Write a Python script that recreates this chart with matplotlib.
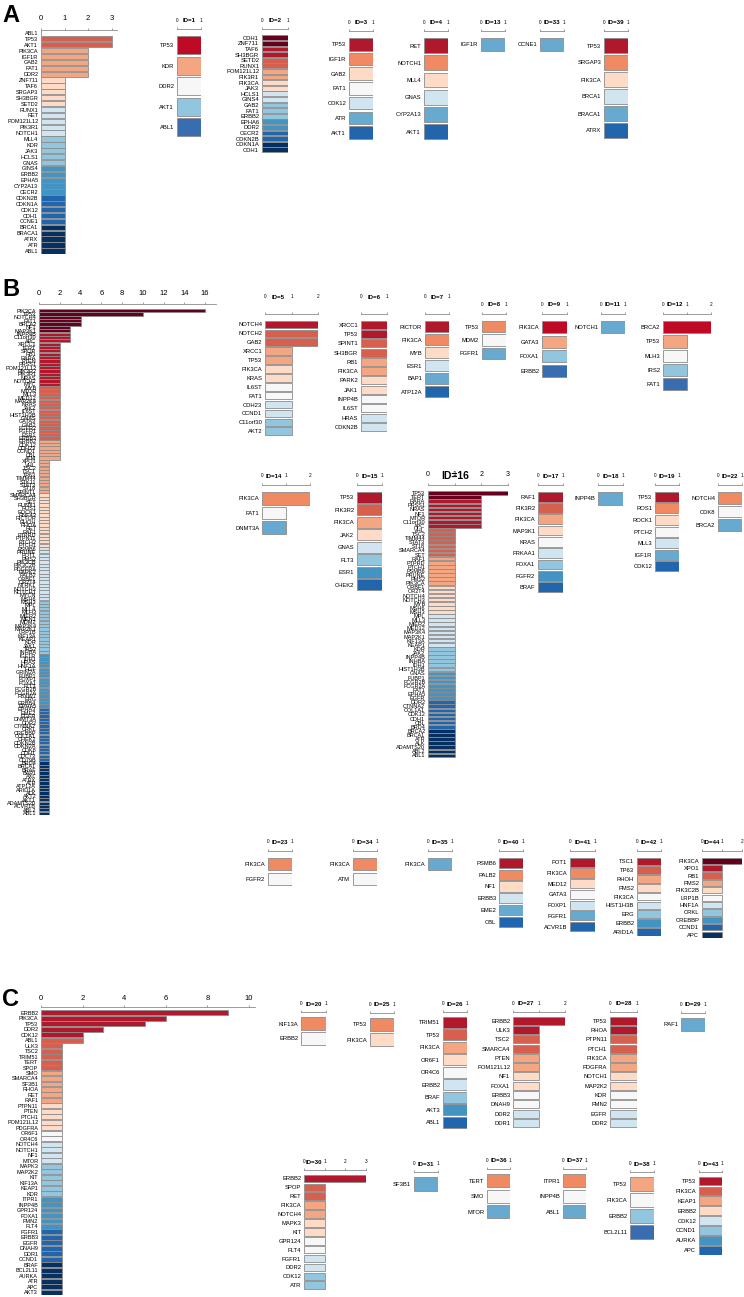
"""Gene frequency bar panels (A, B, C) with per-ID small multiples."""

import matplotlib
matplotlib.use("Agg")
import matplotlib.pyplot as plt
from matplotlib import font_manager

W, H = 744, 1297
PT = 0.72  # points per pixel at dpi 100

_names = {f.name for f in font_manager.fontManager.ttflist}
plt.rcParams["font.family"] = [f for f in ("Liberation Sans Narrow", "Liberation Sans", "DejaVu Sans") if f in _names]

RDBU = {
    3: ["#ef8a62", "#f7f7f7", "#67a9cf"],
    4: ["#bf0a26", "#f4a582", "#92c5de", "#3a6db0"],
    5: ["#bf0a26", "#f4a582", "#f7f7f7", "#92c5de", "#3a6db0"],
    6: ["#b2182b", "#ef8a62", "#fddbc7", "#d1e5f0", "#67a9cf", "#2166ac"],
    7: ["#b2182b", "#ef8a62", "#fddbc7", "#f7f7f7", "#d1e5f0", "#67a9cf", "#2166ac"],
    8: ["#b2182b", "#d6604d", "#f4a582", "#fddbc7", "#d1e5f0", "#92c5de", "#4393c3", "#2166ac"],
    9: ["#b2182b", "#d6604d", "#f4a582", "#fddbc7", "#f7f7f7", "#d1e5f0", "#92c5de", "#4393c3", "#2166ac"],
    10: ["#67001f", "#b2182b", "#d6604d", "#f4a582", "#fddbc7", "#d1e5f0", "#92c5de", "#4393c3", "#2166ac", "#053061"],
    11: ["#67001f", "#b2182b", "#d6604d", "#f4a582", "#fddbc7", "#f7f7f7", "#d1e5f0", "#92c5de", "#4393c3", "#2166ac", "#053061"],
}

# ---------------------------------------------------------------- panel A
A_GENES = ["ABL1", "TP53", "AKT1", "PIK3CA", "IGF1R", "GAB2", "FAT1", "DDR2", "ZNF711", "TAF6",
           "SRGAP3", "SH3BGR", "SETD2", "RUNX1", "RET", "POM121L12", "PIK3R1", "NOTCH1", "MLL4", "KDR",
           "JAK3", "HCLS1", "GNAS", "GINS4", "ERBB2", "EPHA5", "CYP2A13", "CECR2", "CDKN2B", "CDKN1A",
           "CDK12", "CDH1", "CCNE1", "BRCA1", "BRACA1", "ATRX", "ATR", "ABL1"]
A_VALUES = [0, 3, 3, 2, 2, 2, 2, 2] + [1] * 30
A_BANDS = [0, 0, 3, 5, 5, 0, 5, 5, 5, 5, 5]

ID1_GENES = ["TP53", "KDR", "DDR2", "AKT1", "ABL1"]
ID1_VALUES = [1, 1, 1, 1, 1]
ID2_GENES = ["CDH1", "ZNF711", "TAF6", "SH3BGR", "SETD2", "RUNX1", "POM121L12", "PIK3R1", "PIK3CA",
             "JAK3", "HCLS1", "GINS4", "GAB2", "FAT1", "ERBB2", "EPHA6", "DDR2", "CECR2", "CDKN2B",
             "CDKN1A", "CDH1"]
ID2_VALUES = [1] * 21
ID2_BANDS = [2, 2, 2, 2, 2, 0, 2, 3, 2, 2, 2]
ID3_GENES = ["TP53", "IGF1R", "GAB2", "FAT1", "CDK12", "ATR", "AKT1"]
ID3_VALUES = [1, 1, 1, 1, 1, 1, 1]
ID4_GENES = ["RET", "NOTCH1", "MLL4", "GNAS", "CYP2A13", "AKT1"]
ID4_VALUES = [1, 1, 1, 1, 1, 1]
ID13_GENES = ["IGF1R"]
ID13_VALUES = [1]
ID33_GENES = ["CCNE1"]
ID33_VALUES = [1]
ID39_GENES = ["TP53", "SRGAP3", "PIK3CA", "BRCA1", "BRACA1", "ATRX"]
ID39_VALUES = [1, 1, 1, 1, 1, 1]

# ---------------------------------------------------------------- panel B
B_GENES = (
    ["PIK3CA", "TP53", "NOTCH4", "FAT1", "BRCA2", "NF1", "MAP3K1", "INPP4B", "C11orf30", "APC"]
    + ["XRCC1", "TERT", "SPOP", "RB1", "RARA", "PTEN", "PRSS1", "POM121L12", "PIK3R2", "PIK3R1",
       "NRAS", "NOTCH2", "MYC", "MYB", "MTOR", "MLL3", "MED12", "MAP2K4", "KRAS", "JAK2",
       "IL6ST", "HIST1H3B", "GNAS", "GATA3", "GAB2", "FGFR2", "FGFR1", "ESR1", "ERBB3", "ERBB2",
       "CDK12", "CDH23", "CCND1", "CBL", "ATM"]
    + ["XPO1", "VHL", "TSC2", "TSC1", "TP63", "TIMM44", "STK11", "STAT3", "ST18", "SPINT1",
       "SMARCA4", "SH3BGR", "SET", "RUNX1", "ROS1", "ROCK1", "RNF43", "RICTOR", "RHOH", "RHOA",
       "RET", "RAF1", "PTPRD", "PTPN11", "PTCH2", "PTCH1", "PSMB6", "PRUNE", "POT1", "PMS2",
       "PIK3CB", "PIK3C2B", "PDGFRA", "PARK2", "PALB2", "ORBF1", "OR2T4", "NTRK1", "NOTCH3", "NOTCH1",
       "MYCN", "MSH6", "MSH3", "MPL", "MLL4", "MLH3", "MIER2", "MEN1", "MDM2", "MAP3K4",
       "MAP2K1", "LRP1B", "KIF13A", "KEAP1", "KDR", "JAK1", "IRS2", "INHBA", "IGF1R", "IDH1",
       "HRAS", "HNF1A", "HGF", "GRIN2A", "FUBP1", "FOXP1", "FOXA1", "FLT3", "FCGR2B", "FCGR2A",
       "FBXW7", "ERG", "ERBB4", "EPHA5", "EPHA3", "EME2", "EGFR", "DNMT3A", "DDR2", "CTNNA2",
       "CRKL", "CREBBP", "COL1A1", "CHEK2", "CDKN2B", "CDKN2A", "CDK8", "CDH1", "CDC73", "CD79B",
       "BRD4", "BRCA1", "BRAF", "BAP1", "AXL", "ATRX", "ATR", "ATP12A", "ARID1A", "ALK",
       "AKT2", "AKT1", "ADAMTS20", "ACVR1B", "ABL2", "ABL1"]
)
B_VALUES = [16, 10, 4, 4, 4, 3, 3, 3, 3, 3] + [2] * 35 + [1] * 106
B_BANDS = [7, 16, 16, 16, 16, 0, 16, 16, 16, 16, 16]

ID5_GENES = ["NOTCH4", "NOTCH2", "GAB2", "XRCC1", "TP53", "PIK3CA", "KRAS", "IL6ST", "FAT1",
             "CDH23", "CCND1", "C11orf30", "AKT2"]
ID5_VALUES = [2, 2, 2, 1, 1, 1, 1, 1, 1, 1, 1, 1, 1]
ID5_BANDS = [0, 1, 2, 2, 2, 2, 2, 2, 0, 0, 0]
ID6_GENES = ["XRCC1", "TP53", "SPINT1", "SH3BGR", "RB1", "PIK3CA", "PARK2", "JAK1", "INPP4B",
             "IL6ST", "HRAS", "CDKN2B"]
ID6_VALUES = [1] * 12
ID6_BANDS = [0, 2, 2, 2, 2, 2, 2, 0, 0, 0, 0]
ID7_GENES = ["RICTOR", "PIK3CA", "MYB", "ESR1", "BAP1", "ATP12A"]
ID7_VALUES = [1, 1, 1, 1, 1, 1]
ID8_GENES = ["TP53", "MDM2", "FGFR1"]
ID8_VALUES = [1, 1, 1]
ID9_GENES = ["PIK3CA", "GATA3", "FOXA1", "ERBB2"]
ID9_VALUES = [1, 1, 1, 1]
ID11_GENES = ["NOTCH1"]
ID11_VALUES = [1]
ID12_GENES = ["BRCA2", "TP53", "MLH3", "IRS2", "FAT1"]
ID12_VALUES = [2, 1, 1, 1, 1]
ID14_GENES = ["PIK3CA", "FAT1", "DNMT3A"]
ID14_VALUES = [2, 1, 1]
ID15_GENES = ["TP53", "PIK3R2", "PIK3CA", "JAK2", "GNAS", "FLT3", "ESR1", "CHEK2"]
ID15_VALUES = [1, 1, 1, 1, 1, 1, 1, 1]
ID16_GENES = ["TP53", "TERT", "RARA", "PRSS1", "NRAS", "NF1", "MTOR", "C11orf30", "APC",
              "VHL", "TSC2", "TIMM44", "STAT3", "ST18", "SMARCA4", "SET", "RAF1", "PTPRD", "PTCH1",
              "PSMB6", "PRUNE", "PMS2", "PIK3CA", "ORBF1", "OR2T4", "NOTCH4", "NOTCH3", "MYB", "MSH6",
              "MSH3", "MPL", "MLL3", "MIER2", "MED12", "MAP3K4", "MAP2K1", "KIF13A", "KEAP1", "KDR",
              "JAK2", "INPP4B", "INHBA", "IDH1", "HIST1H3B", "GNAS", "FUBP1", "FCGR2B", "FCGR2A", "FAT1",
              "EPHA5", "EGFR", "DDR2", "CTNNA2", "COL1A1", "CDK12", "CDH1", "CBL", "BRD4", "BRCA2",
              "BRCA1", "ATR", "ALK", "ADAMTS20", "ABL2", "ABL1"]
ID16_VALUES = [3, 2, 2, 2, 2, 2, 2, 2, 2] + [1] * 56
ID16_BANDS = [2, 7, 7, 7, 7, 0, 8, 6, 7, 7, 7]
ID17_GENES = ["RAF1", "PIK3R2", "PIK3CA", "MAP3K1", "KRAS", "FRKAA1", "FOXA1", "FGFR2", "BRAF"]
ID17_VALUES = [1] * 9
ID18_GENES = ["INPP4B"]
ID18_VALUES = [1]
ID19_GENES = ["TP53", "ROS1", "ROCK1", "PTCH2", "MLL3", "IGF1R", "CDK12"]
ID19_VALUES = [1] * 7
ID22_GENES = ["NOTCH4", "CDK8", "BRCA2"]
ID22_VALUES = [1, 1, 1]
ID23_GENES = ["PIK3CA", "FGFR2"]
ID23_VALUES = [1, 1]
ID34_GENES = ["PIK3CA", "ATM"]
ID34_VALUES = [1, 1]
ID35_GENES = ["PIK3CA"]
ID35_VALUES = [1]
ID40_GENES = ["PSMB6", "PALB2", "NF1", "ERBB3", "EME2", "CBL"]
ID40_VALUES = [1] * 6
ID41_GENES = ["POT1", "PIK3CA", "MED12", "GATA3", "FOXP1", "FGFR1", "ACVR1B"]
ID41_VALUES = [1] * 7
ID42_GENES = ["TSC1", "TP63", "RHOH", "PMS2", "PIK3CA", "HIST1H3B", "ERG", "ERBB2", "ARID1A"]
ID42_VALUES = [1] * 9
ID44_GENES = ["PIK3CA", "XPO1", "RB1", "PMS2", "PIK3C2B", "LRP1B", "HNF1A", "CRKL", "CREBBP",
              "CCND1", "APC"]
ID44_VALUES = [2, 1, 1, 1, 1, 1, 1, 1, 1, 1, 1]

# ---------------------------------------------------------------- panel C
C_GENES = ["ERBB2", "PIK3CA", "TP53", "DDR2", "CDK12", "ABL1", "ULK3", "TSC2", "TRIM51", "TERT",
           "SPOP", "SMO", "SMARCA4", "SF3B1", "RHOA", "RET", "RAF1", "PTPN11", "PTEN", "PTCH1",
           "POM121L12", "PDGFRA", "OR6F1", "OR4C6", "NOTCH4", "NOTCH1", "NF1", "MTOR", "MAPK3", "MAP2K2",
           "KIT", "KIF13A", "KEAP1", "KDR", "ITPR1", "INPP4B", "GPR124", "FOXA1", "FMN2", "FLT4",
           "FGFR1", "ERBB3", "EGFR", "DNAH9", "DDR1", "CCND1", "BRAF", "BCL2L11", "AURKA", "ATR",
           "APC", "AKT3"]
C_VALUES = [9, 6, 5, 3, 2, 2] + [1] * 46
C_BANDS = [0, 5, 6, 6, 5, 2, 4, 6, 6, 6, 6]

ID20_GENES = ["KIF13A", "ERBB2"]
ID20_VALUES = [1, 1]
ID25_GENES = ["TP53", "PIK3CA"]
ID25_VALUES = [1, 1]
ID26_GENES = ["TRIM51", "TP53", "PIK3CA", "OR6F1", "OR4C6", "ERBB2", "BRAF", "AKT3", "ABL1"]
ID26_VALUES = [1] * 9
ID27_GENES = ["ERBB2", "ULK3", "TSC2", "SMARCA4", "PTEN", "POM121L12", "NF1", "FOXA1", "ERBB3",
              "DNAH9", "DDR2", "DDR1"]
ID27_VALUES = [2] + [1] * 11
ID28_GENES = ["TP53", "RHOA", "PTPN11", "PTCH1", "PIK3CA", "PDGFRA", "NOTCH1", "MAP2K2", "KDR",
              "FMN2", "EGFR", "DDR2"]
ID28_VALUES = [1] * 12
ID29_GENES = ["RAF1"]
ID29_VALUES = [1]
ID30_GENES = ["ERBB2", "SPOP", "RET", "PIK3CA", "NOTCH4", "MAPK3", "KIT", "GPR124", "FLT4", "FGFR1",
              "DDR2", "CDK12", "ATR"]
ID30_VALUES = [3] + [1] * 12
ID31_GENES = ["SF3B1"]
ID31_VALUES = [1]
ID36_GENES = ["TERT", "SMO", "MTOR"]
ID36_VALUES = [1, 1, 1]
ID37_GENES = ["ITPR1", "INPP4B", "ABL1"]
ID37_VALUES = [1, 1, 1]
ID38_GENES = ["TP53", "PIK3CA", "ERBB2", "BCL2L11"]
ID38_VALUES = [1, 1, 1, 1]
ID43_GENES = ["TP53", "PIK3CA", "KEAP1", "ERBB2", "CDK12", "CCND1", "AURKA", "APC"]
ID43_VALUES = [1] * 8


def row_colors(n, bands=None):
    if bands:
        return [c for c, k in zip(RDBU[11], bands) for _ in range(k)]
    if n == 1:
        return [RDBU[3][2]]
    if n == 2:
        return RDBU[3][:2]
    return RDBU[n]


def draw_panel(fig, genes, values, x0, top, unit, pitch, ticks=(0, 1), title=None, colors=None,
               bands=None, xlim=None, axis_off=6, lab_gap=9, gene_fs=4.2, tick_fs=3.4,
               title_fs=4.4, title_x=0.5, bar_h=0.86, full_axis=False):
    n = len(genes)
    xlim = xlim or ticks[-1]
    colors = colors or row_colors(n, bands)
    ax = fig.add_axes([x0 / W, 1 - (top + n * pitch) / H, unit * xlim / W, n * pitch / H])
    ax.barh(range(n), values, height=bar_h, color=colors, edgecolor="#8c8c8c", linewidth=0.6)
    ax.set_xlim(0, xlim)
    ax.set_ylim(n - 0.5, -0.5)
    ax.set_yticks(range(n))
    ax.set_yticklabels(genes)
    ax.tick_params(axis="y", length=0, pad=2, labelsize=gene_fs)
    ax.xaxis.tick_top()
    ax.set_xticks(list(ticks))
    ax.set_xticklabels([str(t) for t in ticks])
    tick_len = 1.4
    ax.tick_params(axis="x", direction="out", length=tick_len, width=0.5, color="#777777",
                   labelsize=tick_fs,
                   pad=max(lab_gap * PT - tick_len - tick_fs * 0.36, 0.2))
    for s in ("left", "right", "bottom"):
        ax.spines[s].set_visible(False)
    sp = ax.spines["top"]
    sp.set_position(("outward", axis_off * PT))
    sp.set_color("#8c8c8c")
    sp.set_linewidth(0.6)
    if not full_axis:
        sp.set_bounds(ticks[0], ticks[-1])
    if title:
        ax.annotate(title, xy=(title_x / xlim, 1), xycoords="axes fraction",
                    xytext=(0, (axis_off + lab_gap) * PT), textcoords="offset points",
                    ha="center", va="center", fontsize=title_fs, fontweight="bold")
    return ax


def main():
    fig = plt.figure(figsize=(W / 100, H / 100), dpi=100)

    for letter, y in (("A", 15), ("B", 289), ("C", 999)):
        fig.text(2 / W, 1 - y / H, letter, fontsize=17, fontweight="bold", va="center")

    # panel A
    draw_panel(fig, A_GENES, A_VALUES, 41, 30, 23.5, 5.89, ticks=(0, 1, 2, 3), xlim=3.23,
               bands=A_BANDS, axis_off=0.5, lab_gap=10, gene_fs=4.0, tick_fs=5.5, full_axis=True,
               bar_h=0.9)
    small_a = [
        (ID1_GENES, ID1_VALUES, "ID=1", 177, 35, 24, 20.5, None),
        (ID2_GENES, ID2_VALUES, "ID=2", 262, 35, 26, 5.6, ID2_BANDS),
        (ID3_GENES, ID3_VALUES, "ID=3", 349, 37, 24, 14.7, None),
        (ID4_GENES, ID4_VALUES, "ID=4", 424, 37, 24, 17.2, None),
        (ID13_GENES, ID13_VALUES, "ID=13", 481, 37, 24, 15, None),
        (ID33_GENES, ID33_VALUES, "ID=33", 540, 37, 24, 15, None),
        (ID39_GENES, ID39_VALUES, "ID=39", 604, 37, 24, 17, None),
    ]
    for genes, vals, title, x0, top, unit, pitch, bands in small_a:
        draw_panel(fig, genes, vals, x0, top, unit, pitch, title=title, bands=bands, lab_gap=8)

    # panel B
    draw_panel(fig, B_GENES, B_VALUES, 39, 309, 10.375, 3.35, ticks=(0, 2, 4, 6, 8, 10, 12, 14, 16),
               xlim=17.1, bands=B_BANDS, axis_off=5, lab_gap=10, gene_fs=4.0, tick_fs=5.5,
               full_axis=True, bar_h=0.95)
    small_b = [
        (ID5_GENES, ID5_VALUES, "ID=5", 265, 320, 26.5, 8.9, (0, 1, 2), ID5_BANDS, 17),
        (ID6_GENES, ID6_VALUES, "ID=6", 361, 320, 26, 9.3, (0, 1), ID6_BANDS, 17),
        (ID7_GENES, ID7_VALUES, "ID=7", 425, 320, 24, 13, (0, 1), None, 17),
        (ID8_GENES, ID8_VALUES, "ID=8", 482, 320, 24, 13.3, (0, 1), None, 9),
        (ID9_GENES, ID9_VALUES, "ID=9", 542, 320, 25, 14.5, (0, 1), None, 9),
        (ID11_GENES, ID11_VALUES, "ID=11", 601, 320, 24, 14, (0, 1), None, 9),
        (ID12_GENES, ID12_VALUES, "ID=12", 663, 320, 24, 14.3, (0, 1, 2), None, 9),
        (ID14_GENES, ID14_VALUES, "ID=14", 262, 491, 24, 14.7, (0, 1, 2), None, 9),
        (ID15_GENES, ID15_VALUES, "ID=15", 357, 491, 25, 12.5, (0, 1), None, 9),
        (ID17_GENES, ID17_VALUES, "ID=17", 538, 491, 25, 11.3, (0, 1), None, 9),
        (ID18_GENES, ID18_VALUES, "ID=18", 598, 491, 25, 15, (0, 1), None, 9),
        (ID19_GENES, ID19_VALUES, "ID=19", 655, 491, 24, 11.6, (0, 1), None, 9),
        (ID22_GENES, ID22_VALUES, "ID=22", 718, 491, 24, 13.7, (0, 1), None, 9),
        (ID23_GENES, ID23_VALUES, "ID=23", 268, 857, 24, 14.5, (0, 1), None, 9),
        (ID34_GENES, ID34_VALUES, "ID=34", 353, 857, 24, 14.5, (0, 1), None, 9),
        (ID35_GENES, ID35_VALUES, "ID=35", 428, 857, 24, 14.5, (0, 1), None, 9),
        (ID40_GENES, ID40_VALUES, "ID=40", 499, 857, 24, 11.8, (0, 1), None, 9),
        (ID41_GENES, ID41_VALUES, "ID=41", 570, 857, 25, 10.7, (0, 1), None, 9),
        (ID42_GENES, ID42_VALUES, "ID=42", 637, 857, 24, 8.8, (0, 1), None, 9),
        (ID44_GENES, ID44_VALUES, "ID=44", 702, 857, 20, 7.4, (0, 1, 2), None, 9),
    ]
    for genes, vals, title, x0, top, unit, pitch, ticks, bands, gap in small_b:
        draw_panel(fig, genes, vals, x0, top, unit, pitch, ticks=ticks, title=title, bands=bands,
                   lab_gap=gap)
    draw_panel(fig, ID16_GENES, ID16_VALUES, 428, 491, 26.7, 4.1, ticks=(0, 1, 2, 3), title="ID=16",
               bands=ID16_BANDS, title_fs=7.5, title_x=1.0, tick_fs=5, lab_gap=9, gene_fs=4.0,
               bar_h=0.9)

    # panel C
    draw_panel(fig, C_GENES, C_VALUES, 41, 1010, 20.8, 5.48, ticks=(0, 2, 4, 6, 8, 10), xlim=10.3,
               bands=C_BANDS, axis_off=3, lab_gap=8, gene_fs=4.0, tick_fs=5.5, full_axis=True,
               bar_h=0.9)
    small_c = [
        (ID20_GENES, ID20_VALUES, "ID=20", 301, 1016, 25, 15, (0, 1), None, None),
        (ID25_GENES, ID25_VALUES, "ID=25", 370, 1017, 24, 15, (0, 1), None, ["#ef8a62", "#fddbc7"]),
        (ID26_GENES, ID26_VALUES, "ID=26", 443, 1016, 24, 12.5, (0, 1), None, None),
        (ID27_GENES, ID27_VALUES, "ID=27", 513, 1016, 26, 9.3, (0, 1, 2), ID6_BANDS, None),
        (ID28_GENES, ID28_VALUES, "ID=28", 610, 1016, 27, 9.3, (0, 1), ID6_BANDS, None),
        (ID29_GENES, ID29_VALUES, "ID=29", 681, 1017, 24, 15, (0, 1), None, None),
        (ID30_GENES, ID30_VALUES, "ID=30", 304, 1174, 20.6, 8.9, (0, 1, 2, 3), ID5_BANDS, None),
        (ID31_GENES, ID31_VALUES, "ID=31", 414, 1176, 24, 16, (0, 1), None, None),
        (ID36_GENES, ID36_VALUES, "ID=36", 487, 1173, 23, 15.5, (0, 1), None, None),
        (ID37_GENES, ID37_VALUES, "ID=37", 563, 1173, 23, 15.5, (0, 1), None, None),
        (ID38_GENES, ID38_VALUES, "ID=38", 630, 1176, 24, 16, (0, 1), None, RDBU[5][1:]),
        (ID43_GENES, ID43_VALUES, "ID=43", 699, 1176, 23, 9.9, (0, 1), None, None),
    ]
    for genes, vals, title, x0, top, unit, pitch, ticks, bands, colors in small_c:
        draw_panel(fig, genes, vals, x0, top, unit, pitch, ticks=ticks, title=title, bands=bands,
                   colors=colors, axis_off=4, lab_gap=8)

    fig.savefig("out.png", dpi=100)
    plt.close(fig)


if __name__ == "__main__":
    main()
